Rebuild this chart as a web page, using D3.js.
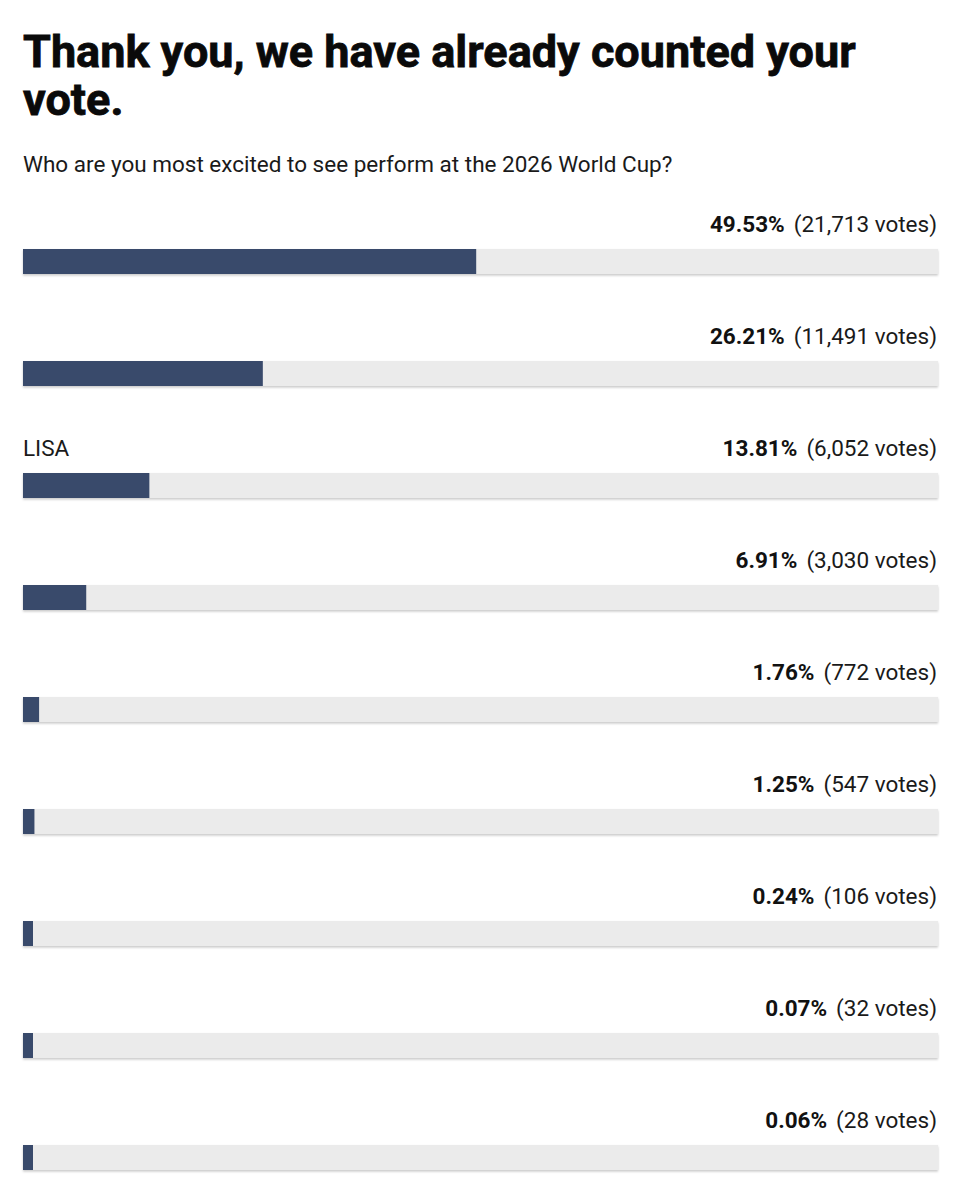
<!DOCTYPE html>
<html>
<head>
<meta charset="utf-8">
<script src="https://cdn.jsdelivr.net/npm/d3@7"></script>
<style>
  html, body { margin: 0; padding: 0; background: #ffffff; }
  svg { display: block; font-family: Roboto, "Noto Sans", sans-serif; }
</style>
</head>
<body>
<svg id="chart" width="962" height="1200"></svg>
<script>
const titleLines = ["Thank you, we have already counted your", "vote."];
const subtitle = "Who are you most excited to see perform at the 2026 World Cup?";
const labels = ["", "", "LISA", "", "", "", "", "", ""];
const percents = [49.53, 26.21, 13.81, 6.91, 1.76, 1.25, 0.24, 0.07, 0.06];
const votes = [21713, 11491, 6052, 3030, 772, 547, 106, 32, 28];

const svg = d3.select("#chart");
const W = 962, H = 1200;
svg.append("rect").attr("width", W).attr("height", H).attr("fill", "#ffffff");

const defs = svg.append("defs");
const f = defs.append("filter").attr("id", "sh").attr("x", "-2%").attr("y", "-30%").attr("width", "104%").attr("height", "180%");
f.append("feDropShadow").attr("dx", 0).attr("dy", 1.5).attr("stdDeviation", 1).attr("flood-color", "#000").attr("flood-opacity", 0.22);

const left = 23, right = 938;

const title = svg.append("text")
  .attr("x", left).attr("y", 67)
  .attr("font-size", 45).attr("font-weight", 700).attr("fill", "#0a0a0a")
  .attr("stroke", "#0a0a0a").attr("stroke-width", 0.8);
titleLines.forEach((t, i) => {
  title.append("tspan").attr("x", left).attr("dy", i === 0 ? 0 : 48).text(t);
});

svg.append("text")
  .attr("x", left).attr("y", 172)
  .attr("font-size", 22.5).attr("fill", "#1a1a1a")
  .text(subtitle);

const x = d3.scaleLinear().domain([0, 100]).range([0, right - left]);
const y = d3.scaleBand().domain(d3.range(percents.length)).range([193, 193 + 112 * percents.length]).paddingInner(0);

const fmt = d3.format(",");
const rows = svg.selectAll("g.row").data(percents).enter().append("g")
  .attr("class", "row")
  .attr("transform", (d, i) => `translate(0,${y(i)})`);

rows.append("text")
  .attr("x", left).attr("y", 39)
  .attr("font-size", 22.5).attr("fill", "#1a1a1a")
  .text((d, i) => labels[i]);

const vt = rows.append("text")
  .attr("x", right - 1).attr("y", 39)
  .attr("text-anchor", "end")
  .attr("font-size", 22.5).attr("fill", "#1a1a1a");
vt.append("tspan").attr("font-weight", 700).attr("fill", "#111").text(d => d.toFixed(2) + "%");
vt.append("tspan").attr("dx", 9).text((d, i) => `(${fmt(votes[i])} votes)`);

rows.append("rect")
  .attr("x", left).attr("y", 56)
  .attr("width", x(100)).attr("height", 25)
  .attr("fill", "#ebebeb")
  .attr("filter", "url(#sh)");

rows.append("rect")
  .attr("x", left).attr("y", 56)
  .attr("width", d => Math.max(x(d), 10)).attr("height", 25)
  .attr("fill", "#394a6b");
</script>
</body>
</html>
